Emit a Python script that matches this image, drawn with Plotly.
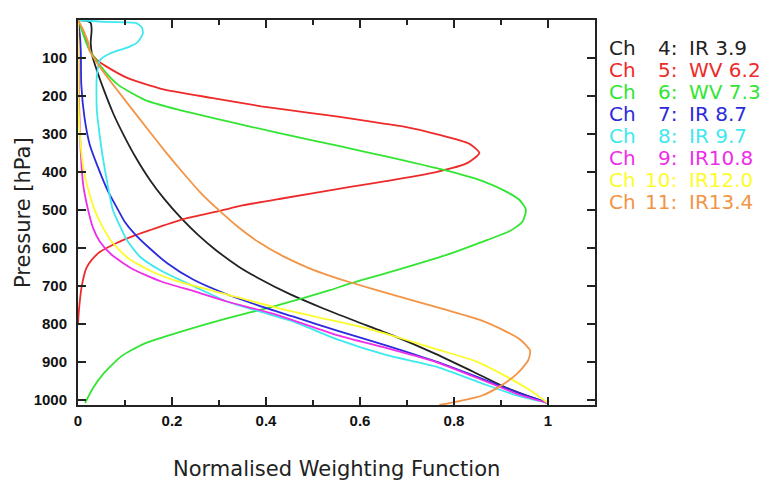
import plotly.graph_objects as go

# ---------------- data ----------------
ch4_x = [0, 0.02, 0.027, 0.029, 0.027, 0.031, 0.040, 0.055, 0.075, 0.098, 0.122, 0.153, 0.183, 0.220, 0.256, 0.293, 0.342, 0.385, 0.452, 0.522, 0.590, 0.668, 0.762, 0.840, 0.912, 1.0]
ch4_p = [0, 3, 8, 26, 61, 97, 132, 184, 246, 305, 360, 421, 470, 522, 566, 605, 649, 680, 722, 759, 792, 829, 879, 925, 968, 1008]

ch5_x = [0, 0.01, 0.025, 0.04, 0.06, 0.106, 0.177, 0.284, 0.39, 0.496, 0.557, 0.62, 0.691, 0.762, 0.833, 0.854, 0.829, 0.762, 0.655, 0.579, 0.437, 0.35, 0.302, 0.224, 0.153, 0.11, 0.08, 0.047, 0.03, 0.018, 0.008, 0.002, 0.0]
ch5_p = [0, 30, 80, 105, 122, 153, 181, 205, 227, 245, 255, 267, 280, 300, 326, 350, 376, 400, 424, 439, 469, 488, 502, 524, 553, 572, 588, 610, 630, 652, 700, 763, 800]

ch6_x = [0, 0.008, 0.018, 0.026, 0.057, 0.085, 0.142, 0.213, 0.319, 0.426, 0.557, 0.655, 0.776, 0.861, 0.91, 0.939, 0.953, 0.946, 0.918, 0.870, 0.784, 0.678, 0.579, 0.536, 0.421, 0.315, 0.209, 0.140, 0.092, 0.056, 0.031, 0.015]
ch6_p = [0, 26, 61, 83, 135, 170, 210, 236, 267, 297, 332, 359, 394, 424, 451, 473, 499, 530, 556, 579, 618, 658, 693, 711, 752, 786, 824, 852, 885, 928, 970, 1008]

ch7_x = [0, 0.004, 0.006, 0.007, 0.014, 0.025, 0.043, 0.064, 0.085, 0.099, 0.12, 0.15, 0.19, 0.245, 0.315, 0.386, 0.457, 0.553, 0.655, 0.762, 0.868, 0.939, 1.0]
ch7_p = [0, 40, 82, 170, 258, 328, 389, 451, 499, 530, 562, 598, 640, 683, 721, 752, 780, 818, 856, 899, 948, 982, 1008]

ch8_x = [0, 0.06, 0.124, 0.136, 0.138, 0.127, 0.110, 0.068, 0.047, 0.040, 0.040, 0.046, 0.053, 0.063, 0.074, 0.088, 0.104, 0.132, 0.174, 0.25, 0.315, 0.386, 0.457, 0.553, 0.655, 0.762, 0.868, 0.939, 1.0]
ch8_p = [0, 5, 8, 20, 36, 58, 70, 88, 105, 149, 237, 302, 363, 433, 499, 539, 579, 623, 658, 703, 740, 767, 793, 841, 881, 912, 960, 990, 1008]

ch9_x = [0, 0.002, 0.006, 0.011, 0.021, 0.032, 0.046, 0.071, 0.113, 0.177, 0.248, 0.315, 0.421, 0.553, 0.655, 0.762, 0.868, 0.939, 1.0]
ch9_p = [0, 200, 350, 433, 497, 547, 582, 617, 653, 688, 714, 740, 775, 830, 863, 900, 951, 986, 1008]

ch10_x = [0, 0.002, 0.007, 0.014, 0.025, 0.035, 0.05, 0.071, 0.106, 0.156, 0.213, 0.319, 0.426, 0.536, 0.607, 0.699, 0.762, 0.847, 0.904, 0.96, 1.0]
ch10_p = [0, 250, 346, 407, 460, 499, 539, 582, 626, 661, 688, 723, 758, 789, 809, 842, 866, 898, 933, 973, 1008]

ch11_x = [0, 0.011, 0.022, 0.025, 0.053, 0.102, 0.150, 0.185, 0.222, 0.262, 0.302, 0.340, 0.385, 0.437, 0.490, 0.536, 0.579, 0.678, 0.784, 0.855, 0.905, 0.940, 0.962, 0.958, 0.935, 0.900, 0.860, 0.811, 0.769]
ch11_p = [0, 26, 61, 82, 135, 214, 290, 345, 400, 456, 503, 544, 585, 622, 652, 673, 690, 726, 763, 789, 816, 840, 870, 895, 930, 962, 988, 1003, 1013]

channel_nums = ["4:", "5:", "6:", "7:", "8:", "9:", "10:", "11:"]
channel_labels = ["IR 3.9", "WV 6.2", "WV 7.3", "IR 8.7", "IR 9.7", "IR10.8", "IR12.0", "IR13.4"]
colors = ["#222222", "#ee2a2a", "#33e533", "#2b2bdd", "#3fe8ee", "#ee2ee8", "#fcfc2c", "#f39445"]

x_tick_vals = [0, 0.2, 0.4, 0.6, 0.8, 1.0]
x_tick_text = ["0", "0.2", "0.4", "0.6", "0.8", "1"]
y_tick_vals = [100, 200, 300, 400, 500, 600, 700, 800, 900, 1000]

xs = [ch4_x, ch5_x, ch6_x, ch7_x, ch8_x, ch9_x, ch10_x, ch11_x]
ps = [ch4_p, ch5_p, ch6_p, ch7_p, ch8_p, ch9_p, ch10_p, ch11_p]

# ---------------- figure ----------------
W, H = 777, 488
ML, MR, MT, MB = 78, 182, 20, 83
PW, PH = W - ML - MR, H - MT - MB


def px(X):
    return (X - ML) / PW


def py(Y):
    return (H - MB - Y) / PH


fig = go.Figure()
for i in range(len(xs)):
    fig.add_trace(go.Scatter(
        x=xs[i], y=ps[i], mode="lines",
        line=dict(color=colors[i], width=1.8, shape="spline", smoothing=0.6),
        showlegend=False, hoverinfo="skip",
    ))

annotations = []
legend_font = dict(family="DejaVu Sans", size=20)
for i in range(len(channel_nums)):
    Y = 48 + 22 * i
    for text, X, anchor in (("Ch", 607, "left"), (channel_nums[i], 679, "right"), (channel_labels[i], 687, "left")):
        annotations.append(dict(
            text=text, x=px(X), y=py(Y), xref="paper", yref="paper",
            xanchor=anchor, yanchor="middle", showarrow=False,
            font=dict(color=colors[i], **legend_font),
        ))

annotations.append(dict(
    text="Normalised Weighting Function", x=0.5, y=py(469), xref="paper", yref="paper",
    xanchor="center", yanchor="middle", showarrow=False,
    font=dict(family="DejaVu Sans", size=21, color="#222222"),
))
annotations.append(dict(
    text="Pressure [hPa]", x=px(23), y=py(213), xref="paper", yref="paper",
    xanchor="center", yanchor="middle", showarrow=False, textangle=-90,
    font=dict(family="DejaVu Sans", size=21, color="#222222"),
))

tick_font = dict(family="Liberation Sans", size=15, color="#111111", weight="bold")
fig.update_layout(
    width=W, height=H,
    margin=dict(l=ML, r=MR, t=MT, b=MB, pad=0),
    paper_bgcolor="white", plot_bgcolor="white",
    annotations=annotations,
    xaxis=dict(
        range=[0, 1.1], tickmode="array", tickvals=x_tick_vals, ticktext=x_tick_text,
        ticks="inside", ticklen=8, tickwidth=1.5, tickcolor="#222222",
        minor=dict(ticks="inside", ticklen=5, tickwidth=1.5, tickcolor="#222222", tickmode="linear", tick0=0, dtick=0.1),
        showline=True, linecolor="#222222", linewidth=2, mirror="ticks",
        showgrid=False, zeroline=False, tickfont=tick_font, ticklabelstandoff=1,
    ),
    yaxis=dict(
        range=[1013, 0], tickmode="array", tickvals=y_tick_vals,
        ticks="inside", ticklen=8, tickwidth=1.5, tickcolor="#222222",
        showline=True, linecolor="#222222", linewidth=2, mirror="ticks",
        showgrid=False, zeroline=False, tickfont=tick_font, ticklabelstandoff=6,
    ),
)

fig.write_html("out.html")
